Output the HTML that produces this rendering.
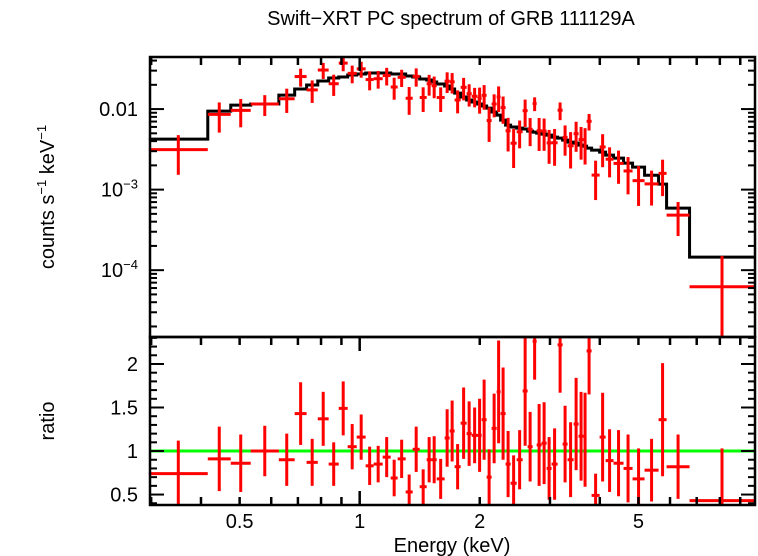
<!DOCTYPE html>
<html><head><meta charset="utf-8"><style>
html,body{margin:0;padding:0;background:#fff;}
svg{display:block;font-family:"Liberation Sans",sans-serif;}
</style></head><body>
<svg id="chart" width="758" height="556" viewBox="0 0 758 556">
<text x="451" y="25" font-size="20" text-anchor="middle">Swift−XRT PC spectrum of GRB 111129A</text>
<text transform="translate(54,197) rotate(-90)" font-size="20" text-anchor="middle">counts s<tspan font-size="13" dy="-8">−1</tspan><tspan dy="8"> keV</tspan><tspan font-size="13" dy="-8">−1</tspan></text>
<text transform="translate(54,421) rotate(-90)" font-size="20" text-anchor="middle">ratio</text>
<text x="452" y="552" font-size="20" text-anchor="middle">Energy (keV)</text>
<g id="g"></g>
</svg>
<script>
const edges=[0.296,0.416,0.475,0.533,0.627,0.687,0.736,0.785,0.836,0.886,0.933,0.983,1.035,1.084,1.142,1.196,1.245,1.304,1.358,1.414,1.472,1.515,1.560,1.633,1.681,1.730,1.791,1.854,1.909,1.975,2.022,2.081,2.142,2.205,2.256,2.322,2.390,2.475,2.562,2.637,2.714,2.778,2.858,2.943,3.028,3.135,3.227,3.321,3.439,3.539,3.642,3.706,3.815,3.996,4.137,4.330,4.588,4.833,5.180,5.616,5.882,6.716,9.77];
const model=[0.00424,0.00944,0.0112,0.01154,0.01492,0.01772,0.01987,0.02228,0.02427,0.02498,0.02645,0.02722,0.02801,0.02801,0.02801,0.02722,0.02722,0.0257,0.02498,0.02359,0.02292,0.02165,0.02045,0.01931,0.01772,0.0158,0.0141,0.01294,0.01222,0.01154,0.0109,0.01029,0.00918,0.00842,0.0073,0.00633,0.00598,0.00581,0.00565,0.00533,0.00518,0.00503,0.00489,0.00475,0.00449,0.00436,0.00412,0.00389,0.00378,0.00357,0.00347,0.00328,0.00309,0.00292,0.00268,0.00246,0.00213,0.0019,0.00151,0.00117,0.000589,0.000145];
const ratio=[0.74,0.91,0.86,1.0,0.90,1.43,0.87,1.37,0.85,1.49,1.05,1.16,0.83,0.85,0.93,0.69,0.91,0.53,1.02,0.59,0.90,0.90,0.68,1.15,1.23,0.82,1.32,1.20,1.18,1.18,1.36,0.70,1.26,1.68,1.43,0.85,0.63,0.90,1.69,1.05,2.26,1.07,1.09,0.80,0.85,2.22,1.08,0.90,1.31,1.17,1.13,2.15,0.49,1.16,0.89,0.86,0.80,0.68,0.78,1.36,0.82,0.43];
const ratioErr=[0.38,0.37,0.33,0.29,0.30,0.36,0.27,0.31,0.25,0.31,0.26,0.26,0.22,0.21,0.23,0.21,0.22,0.20,0.26,0.20,0.26,0.27,0.23,0.33,0.35,0.26,0.41,0.37,0.32,0.42,0.46,0.32,0.40,0.59,0.53,0.38,0.32,0.34,0.63,0.40,0.44,0.47,0.47,0.36,0.41,0.55,0.44,0.43,0.53,0.51,0.54,0.50,0.25,0.51,0.36,0.38,0.39,0.35,0.36,0.65,0.37,0.60];
const xTickLabels=[0.5,1,2,5];
const yTopLabels=[0.01,0.001,0.0001];
const yBotLabels=[0.5,1,1.5,2];

const L=150,R=755,T1=57,B1=337,T2=337,B2=505;
const XMIN=0.298,XMAX=9.8;
const YMIN=1.48e-5,YMAX=0.0443;
const RMIN=0.38,RMAX=2.31;
function sx(e){return L+(Math.log10(e)-Math.log10(XMIN))/(Math.log10(XMAX)-Math.log10(XMIN))*(R-L);}
function sy(v){if(v<=YMIN)return B1;return B1-(Math.log10(v)-Math.log10(YMIN))/(Math.log10(YMAX)-Math.log10(YMIN))*(B1-T1);}
function sr(v){return B2-(v-RMIN)/(RMAX-RMIN)*(B2-T2);}
function clampR(y){return Math.max(T2,Math.min(B2,y));}
function clampT(y){return Math.max(T1,Math.min(B1,y));}
const g=document.getElementById('g');
const NS='http://www.w3.org/2000/svg';
function line(x1,y1,x2,y2,c,w,name){const l=document.createElementNS(NS,'line');l.setAttribute('x1',x1);l.setAttribute('y1',y1);l.setAttribute('x2',x2);l.setAttribute('y2',y2);l.setAttribute('stroke',c);l.setAttribute('stroke-width',w);


g.appendChild(l);return l;}
function text(x,y,s,anchor,name){const t=document.createElementNS(NS,'text');t.setAttribute('x',x);t.setAttribute('y',y);t.setAttribute('font-size','20');t.setAttribute('text-anchor',anchor);t.innerHTML=s;


g.appendChild(t);return t;}

let d='';
for(let i=0;i<model.length;i++){const x0=sx(edges[i]),x1=Math.min(R,sx(edges[i+1])),y=sy(model[i]);d+=(i===0?'M':'L')+x0+','+y+' L'+x1+','+y+' ';}
const mp=document.createElementNS(NS,'path');mp.setAttribute('d',d);mp.setAttribute('fill','none');mp.setAttribute('stroke','#000');mp.setAttribute('stroke-width','3');


g.appendChild(mp);

line(L,sr(1),R,sr(1),'#00ff00',3,'unity-ratio-line');

for(let i=0;i<ratio.length;i++){
  const x0=sx(edges[i]),x1=Math.min(R,sx(edges[i+1]));
  const xc=sx(Math.sqrt(edges[i]*edges[i+1]));
  const xm=Math.min(xc,R-30)===xc?xc:(x0+x1)/2;
  const rate=model[i]*ratio[i],re=model[i]*ratioErr[i];
  const yc=sy(rate);
  line(x0,yc,x1,yc,'#ff0000',3,'spectrum-point-xerr');
  line(xm,clampT(sy(rate+re)),xm,clampT(sy(rate-re)),'#ff0000',3,'spectrum-point-yerr');
  const rc=sr(ratio[i]);
  if(rc>=T2&&rc<=B2) line(x0,rc,x1,rc,'#ff0000',3,'ratio-point-xerr');
  line(xm,clampR(sr(ratio[i]+ratioErr[i])),xm,clampR(sr(ratio[i]-ratioErr[i])),'#ff0000',3,'ratio-point-yerr');
}

[[T1,B1,'top-panel-frame'],[T2,B2,'bottom-panel-frame']].forEach(([t,b,n])=>{const r=document.createElementNS(NS,'rect');r.setAttribute('x',L);r.setAttribute('y',t);r.setAttribute('width',R-L);r.setAttribute('height',b-t);r.setAttribute('fill','none');r.setAttribute('stroke','#000');r.setAttribute('stroke-width','2.5');


g.appendChild(r);});

for(let dec=0.1;dec<20;dec*=10){for(let m=1;m<10;m++){const e=dec*m;if(e<XMIN||e>XMAX)continue;const x=sx(e);const len=(Math.abs(e-1)<1e-9)?14:8;
  line(x,T1,x,T1+len,'#000',2.5,'x-tick');line(x,T2,x,T2+len,'#000',2.5,'x-tick');line(x,B2,x,B2-len,'#000',2.5,'x-tick');}}
xTickLabels.forEach(v=>text(sx(v),528,String(v),'middle','x-tick-label'));

for(let dec=1e-5;dec<0.1;dec*=10){for(let m=1;m<10;m++){const v=dec*m;if(v<YMIN||v>YMAX)continue;const y=sy(v);const len=m===1?14:7;
  line(L,y,L+len,y,'#000',2,'y-tick-top');line(R,y,R-len,y,'#000',2,'y-tick-top');}}
text(138,sy(yTopLabels[0])+7,'0.01','end','y-tick-label-top');
text(138,sy(yTopLabels[1])+7,'10<tspan font-size="13" dy="-8">−3</tspan>','end','y-tick-label-top');
text(138,sy(yTopLabels[2])+7,'10<tspan font-size="13" dy="-8">−4</tspan>','end','y-tick-label-top');

for(let k=4;k<=23;k++){const v=k/10;const y=sr(v);const major=(k%5===0);const len=major?14:7;
  line(L,y,L+len,y,'#000',2,'y-tick-bottom');line(R,y,R-len,y,'#000',2,'y-tick-bottom');}
yBotLabels.forEach(v=>text(138,sr(v)+7,String(v),'end','y-tick-label-bottom'));
</script>
</body></html>
